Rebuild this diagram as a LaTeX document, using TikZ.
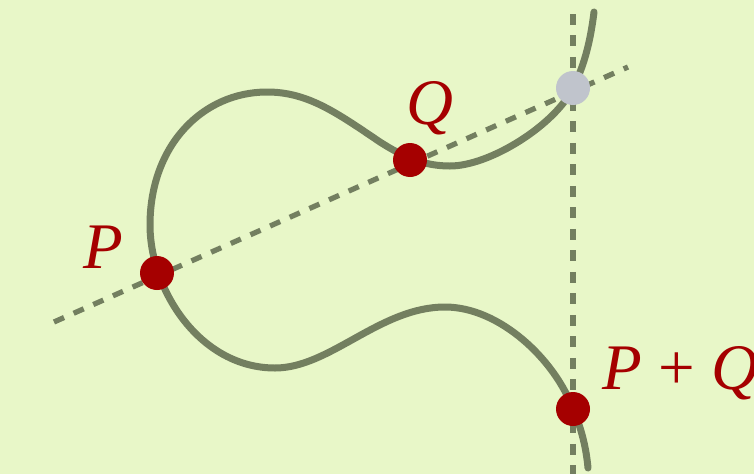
\documentclass[tikz,border=0pt]{standalone}
\usepackage{fontspec}
\setmainfont{Liberation Serif}
\usetikzlibrary{positioning}
\definecolor{bggreen}{HTML}{E8F7C8}
\definecolor{curvegray}{HTML}{737F60}
\definecolor{ptred}{HTML}{A50000}
\definecolor{ptgray}{HTML}{C0C4CC}

\begin{document}
\begin{tikzpicture}[x=0.02cm,y=-0.02cm,
  dot/.style={circle,fill=ptred,minimum size=0.68cm,inner sep=0pt},
  lbl/.style={text=ptred,font=\fontsize{37}{40}\selectfont,inner sep=0pt},
  guide/.style={curvegray,line width=0.105cm,dash pattern=on 0.22cm off 0.21cm},
  curve/.style={curvegray,line width=0.14cm,line cap=round}]
\fill[bggreen] (0,0) rectangle (754,474);
\useasboundingbox (0,0) rectangle (754,474);
% end points of the two dashed lines
\coordinate (secA) at (54,322);
\coordinate (secB) at (628,67);
\coordinate (vertA) at (573,14);
\coordinate (vertB) at (573,474);
\draw[guide] (secA) -- (secB);
\draw[guide] (vertA) -- (vertB);
% the curve
\draw[curve] (594,12) .. controls (590,45) and (583,68) .. (573,88)
  .. controls (555,125) and (490,166) .. (450,166)
  .. controls (425,166) and (405,158) .. (380,142)
  .. controls (337,113) and (308,92) .. (267,92)
  .. controls (203,92) and (150,145) .. (150,225)
  .. controls (150,290) and (200,368) .. (275,368)
  .. controls (330,368) and (380,307) .. (445,307)
  .. controls (500,307) and (555,360) .. (573,409)
  .. controls (580,425) and (586,445) .. (588,468);
% points
\node[dot] (P) at (157,273) {};
\node[dot] (Q) at (410,160) {};
\node[dot,fill=ptgray] (R) at (573,88) {};
\node[dot] (PQ) at (573,409) {};
\node[lbl] (Plbl) at (103,247) {\textit{P}};
\node[lbl] (Qlbl) at (430,108) {\textit{Q}};
\node[lbl,anchor=base west] (PQlbl) at (602,389) {\textit{P} + \textit{Q}};
\end{tikzpicture}
\end{document}
